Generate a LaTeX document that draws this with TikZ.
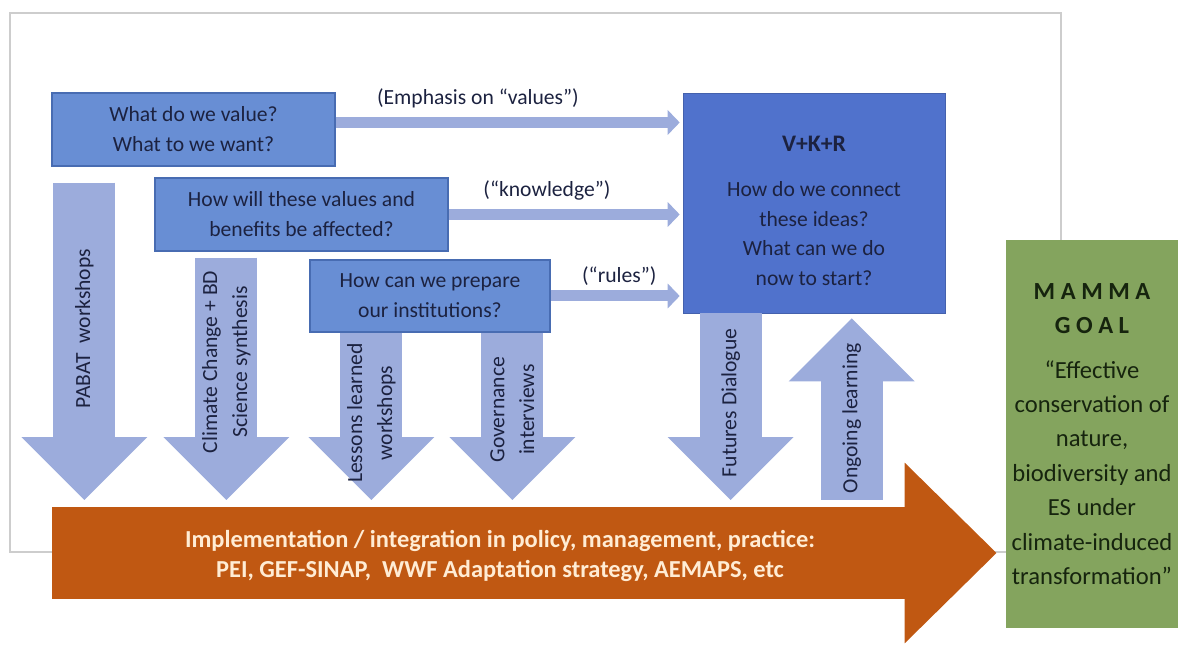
\documentclass[tikz,border=0pt]{standalone}
\usepackage{fontspec}
\setmainfont{Carlito}
\usetikzlibrary{calc,positioning,arrows.meta}

\definecolor{boxblue}{RGB}{104,142,212}
\definecolor{boxline}{RGB}{72,108,178}
\definecolor{vkrblue}{RGB}{80,114,204}
\definecolor{arrowblue}{RGB}{156,172,220}
\definecolor{implorange}{RGB}{192,88,18}
\definecolor{implcream}{RGB}{255,236,212}
\definecolor{goalgreen}{RGB}{132,164,94}
\definecolor{goaltext}{RGB}{22,36,14}
\definecolor{navytext}{RGB}{28,34,64}
\definecolor{framegray}{RGB}{205,205,205}

\begin{document}
\begin{tikzpicture}[
	x=0.02cm, y=-0.02cm,
	font=\fontsize{12.3}{17}\selectfont,
	question/.style={
	draw=boxline, fill=boxblue, text=navytext, align=center,
	line width=0.8pt, minimum height=1.46cm,
	},
	flow/.style={
	draw=arrowblue, line width=0.22cm, shorten >=0.06cm,
	-{Triangle[width=0.5cm,length=0.24cm,line width=0pt]},
	},
	flowlabel/.style={text=navytext, inner sep=0pt, yshift=0.48cm},
	blockdown/.style={
	draw=arrowblue, line width=1.24cm,
	-{Triangle[width=2.52cm,length=1.26cm,line width=0pt]},
	},
	blocklabel/.style={rotate=90, align=center, text=navytext, inner sep=0pt},
	implarrow/.style={
	draw=implorange, line width=1.84cm,
	-{Triangle[width=3.62cm,length=1.84cm,line width=0pt]},
	}
	]

\useasboundingbox (0,0) rectangle (1178,645);
\draw[framegray, line width=0.8pt] (10,13) rectangle (1061,552);

\node[question, minimum width=5.66cm] (values) at (193.5,129.5) {What do we value?\\What to we want?};
\node[question, minimum width=5.86cm] (benefits) at (301.5,214.5) {How will these values and\\benefits be affected?};
\node[question, minimum width=4.8cm, minimum height=1.44cm] (institutions) at (430,296) {How can we prepare\\our institutions?};

\node[draw=vkrblue!85!black, fill=vkrblue, minimum width=5.24cm, minimum height=4.4cm] (vkr) at (814,203) {};
\node[text=navytext, align=center] (vkrtext) at (814,211) {\textbf{\fontsize{13.5}{17}\selectfont V+K+R}\\[0.3cm]How do we connect\\these ideas?\\What can we do\\now to start?};

\draw[flow] ($(values.east)+(0,-7)$) -- ($(values.east -| vkr.west)+(0,-7)$)
	node[flowlabel, pos=.41] {(Emphasis on “values”)};
\draw[flow] (benefits.east) -- (benefits.east -| vkr.west)
	node[flowlabel, pos=.42] {(“knowledge”)};
\draw[flow] (institutions.east) -- (institutions.east -| vkr.west)
	node[flowlabel, pos=.52, yshift=-0.08cm] {(“rules”)};

\coordinate (floor) at (0,500);
\coordinate (pabat) at ($(values.south west)+(33,16)$);
\coordinate (science) at ($(benefits.south west)+(72,6)$);
\coordinate (lessons) at ($(institutions.south west)+(62,0)$);
\coordinate (governance) at ($(institutions.south west)+(203,0)$);
\coordinate (futures) at ($(vkr.south west)+(48,0)$);
\coordinate (learning) at ($(vkr.south west)+(169,5)$);

\draw[blockdown] (pabat) -- (pabat |- floor)
	node[blocklabel, pos=.46] {PABAT~~workshops};
\draw[blockdown] (science) -- (science |- floor)
	node[blocklabel, pos=.43] {Climate Change + BD\\Science synthesis};
\draw[blockdown] (lessons) -- (lessons |- floor)
	node[blocklabel, pos=.48] {Lessons learned\\workshops};
\draw[blockdown] (governance) -- (governance |- floor)
	node[blocklabel, pos=.46] {Governance\\interviews};
\draw[blockdown] (futures) -- (futures |- floor)
	node[blocklabel, pos=.48] {Futures Dialogue};
\draw[blockdown] (learning |- floor) -- (learning)
	node[blocklabel, pos=.45] {Ongoing learning};

\node[fill=goalgreen, text=goaltext, align=center, minimum width=3.44cm, minimum height=7.76cm,
	font=\fontsize{14}{19.6}\selectfont] (goal) at (1092,434)
	{\textbf{M A M M A}\\\textbf{G O A L}\\[0.2cm]“Effective\\conservation of\\nature,\\biodiversity and\\ES under\\climate-induced\\transformation”};

\coordinate (implstart) at (52,553);
\coordinate (implend) at ($(goal.west |- implstart)+(-9,0)$);
\draw[implarrow] (implstart) -- (implend);
\node[text=implcream, align=center, font=\bfseries\fontsize{13.9}{17.6}\selectfont] (impl) at (500,556)
	{Implementation / integration in policy, management, practice:\\PEI, GEF-SINAP,~~WWF Adaptation strategy, AEMAPS, etc};

\end{tikzpicture}
\end{document}
